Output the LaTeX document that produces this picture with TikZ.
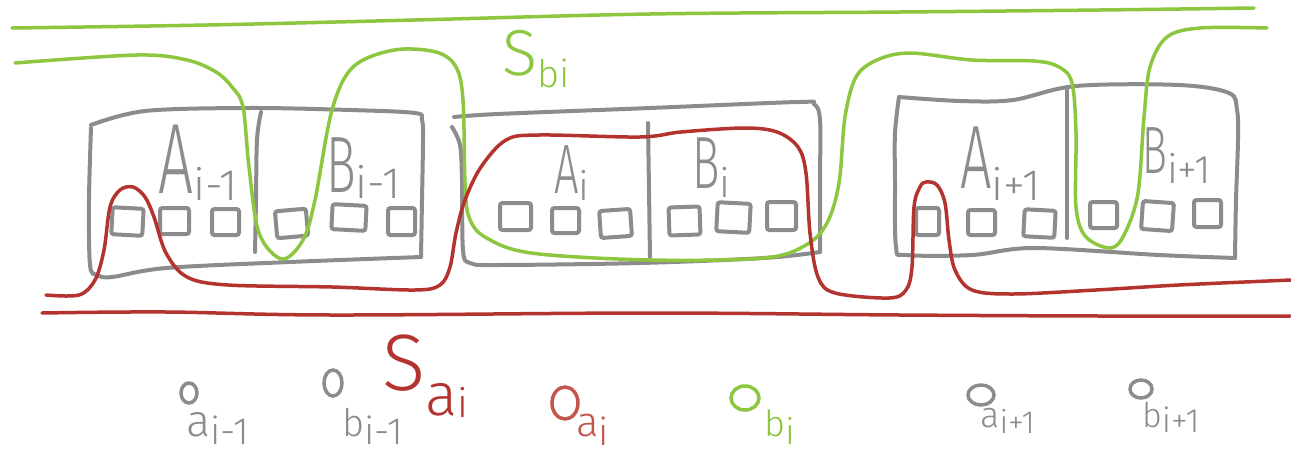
\documentclass[tikz,border=0pt]{standalone}
\usepackage{fontspec}
\newfontfamily\handn{Fira Sans}[UprightFont=* Light, FakeStretch=0.62]
\newfontfamily\handw{Fira Sans}[UprightFont=* Light]
\definecolor{grayc}{RGB}{140,140,140}
\definecolor{greenc}{RGB}{141,198,63}
\definecolor{redc}{RGB}{180,51,46}
\definecolor{lredc}{RGB}{196,84,78}
\newcommand\subx[3]{\raisebox{#1}{\handw\fontsize{#2}{#2}\selectfont #3}}
\newcommand\biglet[2]{{\handn\fontsize{#1}{#1}\selectfont #2}}
\newcommand\wl[2]{{\handw\fontsize{#1}{#1}\selectfont #2}}
\tikzset{
  gbox/.style={draw=grayc, line width=4pt, line cap=round, line join=round},
  sqbox/.style={draw=grayc, line width=4pt, rounded corners=2.5pt},
  gcurve/.style={draw=greenc, line width=3.5pt, line cap=round, line join=round},
  rcurve/.style={draw=redc, line width=3.5pt, line cap=round, line join=round},
  lbl/.style={inner sep=0pt, anchor=base west},
  dot/.style={line width=3.5pt}
}
\begin{document}
\begin{tikzpicture}[x=1pt,y=-1pt]
\useasboundingbox (0,0) rectangle (1291,453);
\fill[white] (0,0) rectangle (1291,453);

% gray boxes
\draw[gbox] plot[smooth,tension=0.55] coordinates {(91,125) (145,111) (249,108) (350,110) (415,113) (422,120) (423,140) (422,200) (421,257)};
\draw[gbox] plot[smooth,tension=0.55] coordinates {(421,257) (290,262) (166,268) (112,277) (97,275) (90,265) (89,200) (91,128)};
\draw[gbox] plot[smooth,tension=0.6] coordinates {(261,112) (257,140) (256,200) (255,252)};

\draw[gbox] plot[smooth,tension=0.55] coordinates {(454,117) (498,114) (650,108) (798,102) (814,104) (820,120) (820,180) (820,252)};
\draw[gbox] plot[smooth,tension=0.55] coordinates {(820,252) (764,258) (640,263) (498,265) (470,263) (463,250) (462,180) (460,145) (452,127)};
\draw[gbox] plot[smooth,tension=0.6] coordinates {(648,123) (649,190) (650,257)};

\draw[gbox] plot[smooth,tension=0.55] coordinates {(899,97) (960,101) (1013,100) (1076,86) (1179,85) (1229,93) (1237,110) (1238,140) (1236,200) (1235,258)};
\draw[gbox] plot[smooth,tension=0.55] coordinates {(1235,258) (1159,255) (1034,248) (972,255) (906,255) (896,247) (895,180) (895,133) (899,97)};
\draw[gbox] plot[smooth,tension=0.6] coordinates {(1067,90) (1067,160) (1067,238)};

% small squares
\draw[sqbox,rotate around={-3:(127,221)}] (112,208) rectangle (143,235);
\draw[sqbox] (160,208) rectangle (189,234);
\draw[sqbox] (212,209) rectangle (239,235);
\draw[sqbox,rotate around={5:(291,223)}] (276,210) rectangle (307,237);
\draw[sqbox,rotate around={-3:(349,217)}] (332,205) rectangle (366,230);
\draw[sqbox] (388,208) rectangle (415,235);
\draw[sqbox] (500,203) rectangle (531,230);
\draw[sqbox] (552,208) rectangle (579,233);
\draw[sqbox,rotate around={4:(615,223)}] (600,210) rectangle (631,237);
\draw[sqbox,rotate around={2:(684,221)}] (669,207) rectangle (700,235);
\draw[sqbox,rotate around={-3:(733,217)}] (717,203) rectangle (750,232);
\draw[sqbox] (767,202) rectangle (796,230);
\draw[sqbox] (916,208) rectangle (939,235);
\draw[sqbox] (968,210) rectangle (995,235);
\draw[sqbox,rotate around={-3:(1039,223)}] (1024,210) rectangle (1055,237);
\draw[sqbox] (1090,202) rectangle (1117,228);
\draw[sqbox,rotate around={-4:(1157,216)}] (1142,202) rectangle (1173,230);
\draw[sqbox] (1194,200) rectangle (1221,227);

% green lines
\draw[gcurve] plot[smooth,tension=0.6] coordinates {(12,28) (207,25) (415,20) (650,14) (900,12) (1100,10) (1254,8)};
\draw[gcurve] plot[smooth,tension=0.55] coordinates {(15,63) (137,55) (187,60) (216,72) (232,87) (243,107) (249,167) (259,233) (282,259) (303,240) (315,200) (332,110) (353,67) (394,50) (436,52) (456,67) (463,100) (465,183) (469,217) (485,237) (531,253) (650,260) (764,258) (806,245) (827,223) (839,183) (845,117) (856,77) (877,60) (910,53) (972,60) (1034,61) (1059,67) (1072,83) (1076,133) (1076,207) (1086,237) (1111,248) (1125,233) (1138,193) (1144,117) (1150,67) (1167,37) (1200,28) (1267,28)};

% red lines
\draw[rcurve] plot[smooth,tension=0.55] coordinates {(46,295) (79,295) (95,280) (104,250) (110,207) (120,190) (133,187) (145,197) (154,217) (166,253) (187,277) (228,285) (332,287) (415,290) (440,285) (450,267) (456,233) (465,200) (481,167) (506,140) (539,135) (640,137) (681,132) (744,128) (777,132) (798,147) (806,173) (810,233) (818,277) (835,293) (889,298) (906,290) (912,267) (914,207) (920,187) (926,182) (937,185) (945,203) (949,240) (955,270) (972,290) (1013,294) (1096,290) (1179,285) (1291,280)};
\draw[rcurve] plot[smooth,tension=0.6] coordinates {(42,313) (166,312) (332,315) (650,313) (900,315) (1100,316) (1290,316)};

% box labels
\node[lbl,text=grayc] (lAim1) at (158,193) {\biglet{100}{A}\subx{-7pt}{44}{i-1}};
\node[lbl,text=grayc] (lBim1) at (326,192) {\biglet{80}{B}\subx{-6pt}{44}{i-1}};
\node[lbl,text=grayc] (lAi) at (554,193) {\biglet{70}{A}\subx{-7pt}{40}{i}};
\node[lbl,text=grayc] (lBi) at (692,188) {\biglet{74}{B}\subx{-9pt}{40}{i}};
\node[lbl,text=grayc] (lAip1) at (960,188) {\biglet{90}{A}\subx{-12pt}{44}{i+1}};
\node[lbl,text=grayc] (lBip1) at (1142,173) {\biglet{67}{B}\subx{-10pt}{40}{i+1}};

% set labels
\node[lbl,text=greenc] (lSb) at (502,75) {\wl{65}{S}\subx{-12pt}{38}{bi}};
\node[lbl,text=redc] (lSa) at (382,390) {\wl{80}{S}\subx{-25pt}{60}{a}\subx{-27pt}{40}{i}};

% points
\draw[grayc,dot] (189,393) ellipse [x radius=8, y radius=10];
\draw[grayc,dot] (333,383) ellipse [x radius=9, y radius=13];
\draw[lredc,dot] (565,403) ellipse [x radius=13, y radius=16];
\draw[greenc,dot] (745,398) ellipse [x radius=14, y radius=12];
\draw[grayc,dot] (981,395) ellipse [x radius=13, y radius=10];
\draw[grayc,dot] (1141,389) ellipse [x radius=11, y radius=9];

\node[lbl,text=grayc] (la1) at (186,436) {\wl{45}{a}\subx{-8pt}{38}{i-1}};
\node[lbl,text=grayc] (lb1) at (342,436) {\wl{38}{b}\subx{-8pt}{38}{i-1}};
\node[lbl,text=lredc] (la2) at (576,436) {\wl{42}{a}\subx{-9pt}{38}{i}};
\node[lbl,text=greenc] (lb2) at (764,436) {\wl{36}{b}\subx{-8pt}{36}{i}};
\node[lbl,text=grayc] (la3) at (980,427) {\wl{36}{a}\subx{-6pt}{32}{i+1}};
\node[lbl,text=grayc] (lb3) at (1142,427) {\wl{34}{b}\subx{-5pt}{34}{i+1}};
\end{tikzpicture}
\end{document}
